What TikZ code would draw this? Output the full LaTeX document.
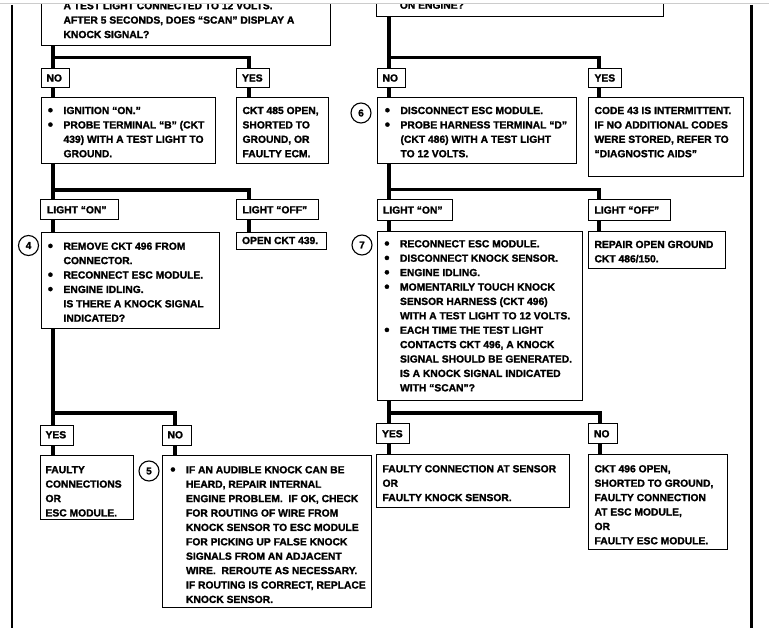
\documentclass[tikz,border=0pt]{standalone}
\usepackage{graphicx}
\usepackage{fontspec}
\setmainfont{Liberation Sans}[BoldFeatures={FakeBold=1.5}]
\newcommand{\bt}[5]{\parbox[t][#2][t]{#1}{\raggedright\leftskip=#3\relax\rightskip=0pt plus 1fil minus 30pt\relax\vspace*{#4}#5}}
\newcommand{\bu}{\makebox[0pt][r]{\raisebox{-1.1pt}{\scalebox{1.45}{\textbullet}}\hspace*{10.5pt}}}
\begin{document}
\begin{tikzpicture}[x=1pt,y=-1pt,
  txt/.style={font=\fontsize{10.3}{14.4}\selectfont\bfseries},
  box/.style={txt, draw, line width=1.1pt, inner sep=0pt, anchor=north west},
  trunk/.style={line width=3.6pt},
  circ/.style={draw, circle, line width=1.1pt, minimum size=20pt, inner sep=0pt, font=\fontsize{10}{12}\selectfont\bfseries}]
\useasboundingbox (0,0) rectangle (769,628);
\fill[white] (0,0) rectangle (769,628);
\draw[black!20, line width=1pt] (0,4) -- (769,4);
\draw[line width=2pt] (11.5,5) -- (11.5,628);
\draw[line width=3pt] (751,5) -- (751,628);

\begin{scope}
\clip (0,4.5) rectangle (769,628);
\node[box] (t1) at (41,-30) {\bt{289pt}{75pt}{22pt}{31.5pt}{A TEST LIGHT CONNECTED TO 12 VOLTS.\\AFTER 5 SECONDS, DOES “SCAN” DISPLAY A\\KNOCK SIGNAL?}};
\node[box] (t2) at (376,-30) {\bt{287pt}{46pt}{23.3pt}{31pt}{ON ENGINE?}};
\end{scope}

% left column
\node[box] (NO1) at (41,68) {\bt{28pt}{19pt}{5pt}{5.8pt}{NO}};
\node[box] (YES1) at (236,68) {\bt{33pt}{19pt}{5.5pt}{5.8pt}{YES}};
\node[box] (A) at (41,97) {\bt{174pt}{66pt}{22pt}{9.3pt}{\bu IGNITION “ON.”\\\bu PROBE TERMINAL “B” (CKT\\439) WITH A TEST LIGHT TO\\GROUND.}};
\node[box] (B) at (236,97) {\bt{92pt}{66pt}{6pt}{9.3pt}{CKT 485 OPEN,\\SHORTED TO\\GROUND, OR\\FAULTY ECM.}};
\node[box] (LON1) at (40,199) {\bt{78pt}{20pt}{6.5pt}{6.6pt}{LIGHT “ON”}};
\node[box] (LOFF1) at (236,199) {\bt{82pt}{20pt}{6pt}{6.6pt}{LIGHT “OFF”}};
\node[box] (D4) at (41,232) {\bt{178pt}{96pt}{22pt}{10pt}{\bu REMOVE CKT 496 FROM\\CONNECTOR.\\\bu RECONNECT ESC MODULE.\\\bu ENGINE IDLING.\\IS THERE A KNOCK SIGNAL\\INDICATED?}};
\node[box] (OPEN) at (236,232) {\bt{90pt}{17pt}{5.5pt}{4.3pt}{OPEN CKT 439.}};
\node[circ] (c4) at (28.5,245.5) {4};
\node[box] (YES2) at (40,425) {\bt{33pt}{20pt}{5pt}{5.6pt}{YES}};
\node[box] (NO2) at (162,425) {\bt{29pt}{20pt}{5pt}{5.6pt}{NO}};
\node[box] (FC) at (40,455) {\bt{93pt}{64pt}{5pt}{10.6pt}{FAULTY\\CONNECTIONS\\OR\\ESC MODULE.}};
\node[box] (D5) at (162,455) {\bt{209pt}{152pt}{23.5pt}{10.6pt}{\bu IF AN AUDIBLE KNOCK CAN BE\\HEARD, REPAIR INTERNAL\\ENGINE PROBLEM.\ \ IF OK, CHECK\\FOR ROUTING OF WIRE FROM\\KNOCK SENSOR TO ESC MODULE\\FOR PICKING UP FALSE KNOCK\\SIGNALS FROM AN ADJACENT\\WIRE.\ \ REROUTE AS NECESSARY.\\IF ROUTING IS CORRECT, REPLACE\\KNOCK SENSOR.}};
\node[circ] (c5) at (149,471) {5};

% right column
\node[box] (NO3) at (377,68) {\bt{28pt}{19pt}{5pt}{5.8pt}{NO}};
\node[box] (YES3) at (588,68) {\bt{33pt}{19pt}{6pt}{5.8pt}{YES}};
\node[box] (D6) at (377,97) {\bt{199pt}{66pt}{23pt}{9.3pt}{\bu DISCONNECT ESC MODULE.\\\bu PROBE HARNESS TERMINAL “D”\\(CKT 486) WITH A TEST LIGHT\\TO 12 VOLTS.}};
\node[box] (C43) at (588,97) {\bt{155pt}{79pt}{6pt}{9.3pt}{CODE 43 IS INTERMITTENT.\\IF NO ADDITIONAL CODES\\WERE STORED, REFER TO\\“DIAGNOSTIC AIDS”}};
\node[circ] (c6) at (361,113) {6};
\node[box] (LON2) at (377,199) {\bt{75pt}{21pt}{5.5pt}{6.9pt}{LIGHT “ON”}};
\node[box] (LOFF2) at (588,199) {\bt{82pt}{21pt}{6pt}{6.9pt}{LIGHT “OFF”}};
\node[box] (D7) at (377,231) {\bt{205pt}{169pt}{22.5pt}{8.6pt}{\bu RECONNECT ESC MODULE.\\\bu DISCONNECT KNOCK SENSOR.\\\bu ENGINE IDLING.\\\bu MOMENTARILY TOUCH KNOCK\\SENSOR HARNESS (CKT 496)\\WITH A TEST LIGHT TO 12 VOLTS.\\\bu EACH TIME THE TEST LIGHT\\CONTACTS CKT 496, A KNOCK\\SIGNAL SHOULD BE GENERATED.\\IS A KNOCK SIGNAL INDICATED\\WITH “SCAN”?}};
\node[box] (REP) at (588,231) {\bt{137pt}{37pt}{6pt}{9.2pt}{REPAIR OPEN GROUND\\CKT 486/150.}};
\node[circ] (c7) at (362,245) {7};
\node[box] (YES4) at (376,423) {\bt{33pt}{20pt}{5.5pt}{6.6pt}{YES}};
\node[box] (NO4) at (588,423) {\bt{29pt}{20pt}{5.5pt}{6.6pt}{NO}};
\node[box] (FY4) at (376,454) {\bt{193pt}{53pt}{6pt}{10.6pt}{FAULTY CONNECTION AT SENSOR\\OR\\FAULTY KNOCK SENSOR.}};
\node[box] (FN4) at (588,454) {\bt{139pt}{95pt}{6pt}{10.6pt}{CKT 496 OPEN,\\SHORTED TO GROUND,\\FAULTY CONNECTION\\AT ESC MODULE,\\OR\\FAULTY ESC MODULE.}};

% trunk coordinates
\coordinate (a1) at (53,57.5);  \coordinate (b1) at (249,57.5);
\coordinate (a2) at (53,190);   \coordinate (b2) at (249,190);
\coordinate (a3) at (53,413);   \coordinate (b3) at (175,413);
\coordinate (p1) at (389,57.5); \coordinate (q1) at (599,57.5);
\coordinate (p2) at (389,189.5);\coordinate (q2) at (599,189.5);
\coordinate (p3) at (389,413);  \coordinate (q3) at (600,413);

% left connectors
\draw[trunk] (t1.south -| a1) -- (NO1.north -| a1);
\draw[trunk] (a1) -- (b1) -- (YES1.north -| b1);
\draw[trunk] (NO1.south -| a1) -- (A.north -| a1);
\draw[trunk] (YES1.south -| b1) -- (B.north -| b1);
\draw[trunk] (A.south -| a2) -- (LON1.north -| a2);
\draw[trunk] (a2) -- (b2) -- (LOFF1.north -| b2);
\draw[trunk] (LON1.south -| a2) -- (D4.north -| a2);
\draw[trunk] (LOFF1.south -| b2) -- (OPEN.north -| b2);
\draw[trunk] (D4.south -| a3) -- (YES2.north -| a3);
\draw[trunk] (a3) -- (b3) -- (NO2.north -| b3);
\draw[trunk] (YES2.south -| a3) -- (FC.north -| a3);
\draw[trunk] (NO2.south -| b3) -- (D5.north -| b3);

% right connectors
\draw[trunk] (t2.south -| p1) -- (NO3.north -| p1);
\draw[trunk] (p1) -- (q1) -- (YES3.north -| q1);
\draw[trunk] (NO3.south -| p1) -- (D6.north -| p1);
\draw[trunk] (YES3.south -| q1) -- (C43.north -| q1);
\draw[trunk] (D6.south -| p2) -- (LON2.north -| p2);
\draw[trunk] (p2) -- (q2) -- (LOFF2.north -| q2);
\draw[trunk] (LON2.south -| p2) -- (D7.north -| p2);
\draw[trunk] (LOFF2.south -| q2) -- (REP.north -| q2);
\draw[trunk] (D7.south -| p3) -- (YES4.north -| p3);
\draw[trunk] (p3) -- (q3) -- (NO4.north -| q3);
\draw[trunk] (YES4.south -| p3) -- (FY4.north -| p3);
\draw[trunk] (NO4.south -| q3) -- (FN4.north -| q3);
\end{tikzpicture}
\end{document}
